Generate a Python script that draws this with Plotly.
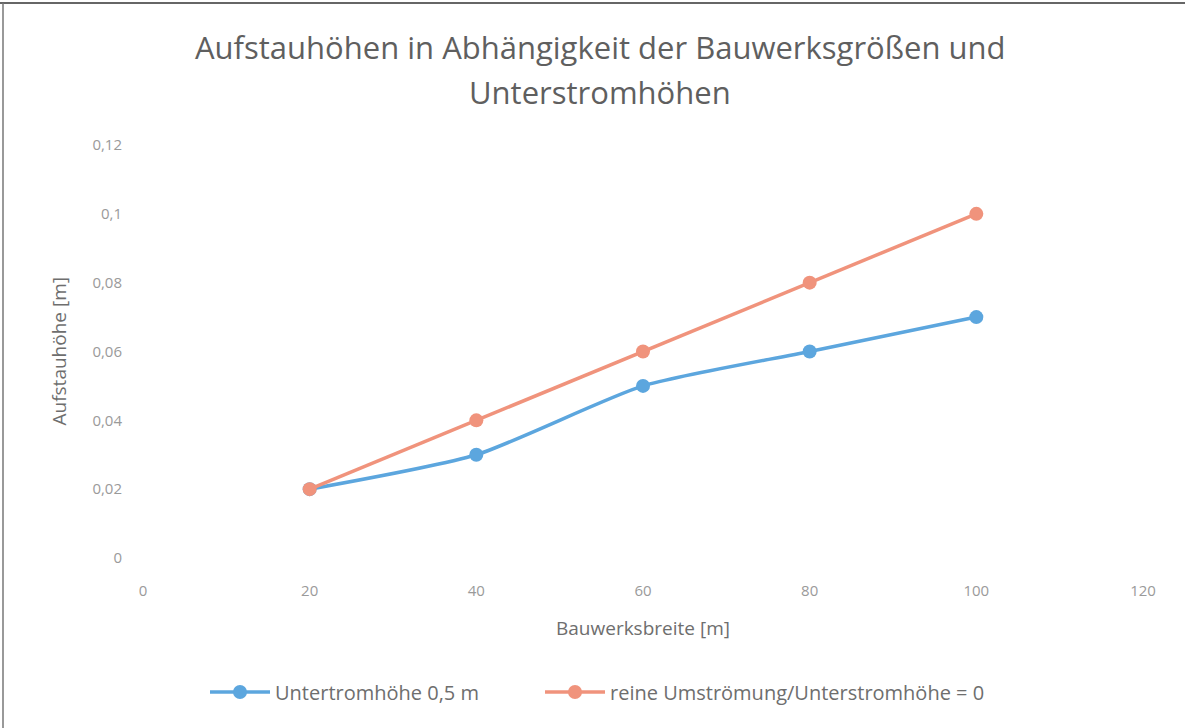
import plotly.graph_objects as go

# Bauwerksbreite [m]
breite = [20, 40, 60, 80, 100]
# Aufstauhöhe [m] bei Unterstromhöhe 0,5 m
auf_unterstrom = [0.02, 0.03, 0.05, 0.06, 0.07]
# Aufstauhöhe [m] bei reiner Umströmung (Unterstromhöhe = 0)
auf_umstroemung = [0.02, 0.04, 0.06, 0.08, 0.10]

x_ticks = [0, 20, 40, 60, 80, 100, 120]
y_ticks = [0, 0.02, 0.04, 0.06, 0.08, 0.1, 0.12]
y_ticktext = ["0", "0,02", "0,04", "0,06", "0,08", "0,1", "0,12"]

blue = "#5CA6DE"
orange = "#F0937C"
grey = "#6e6e6e"
tick_grey = "#9a9a9a"
font = "Open Sans"

# plot area in pixels (for placing the title and axis captions)
L, R, T, B = 143, 42, 145, 170
W, H = 1185 - L - R, 728 - T - B

fig = go.Figure()
fig.add_trace(go.Scatter(
    x=breite, y=auf_unterstrom, name="Untertromhöhe 0,5 m",
    legend="legend", showlegend=True,
    mode="lines+markers", line=dict(color=blue, width=3.5, shape="spline", smoothing=0.6),
    marker=dict(color=blue, size=14),
))
fig.add_trace(go.Scatter(
    x=breite, y=auf_umstroemung, name="reine Umströmung/Unterstromhöhe = 0",
    legend="legend2", showlegend=True,
    mode="lines+markers", line=dict(color=orange, width=3.5),
    marker=dict(color=orange, size=14),
))

title_x = (600 - L) / W
annotations = [
    dict(text="Aufstauhöhen in Abhängigkeit der Bauwerksgrößen und",
         x=title_x, y=1 + (T - 47) / H, font=dict(size=31, color="#5f5f5f")),
    dict(text="Unterstromhöhen",
         x=title_x, y=1 + (T - 92) / H, font=dict(size=31, color="#5f5f5f")),
    dict(text="Bauwerksbreite [m]",
         x=0.5, y=-(628 - (728 - B)) / H, font=dict(size=19, color=grey)),
    dict(text="Aufstauhöhe [m]", textangle=-90,
         x=-(L - 58) / W, y=0.5, font=dict(size=19, color=grey)),
]
for a in annotations:
    a.update(xref="paper", yref="paper", xanchor="center", yanchor="middle",
             showarrow=False)

legend_y = -(692 - (728 - B)) / H
legend_style = dict(orientation="h", xanchor="left", y=legend_y, yanchor="middle",
                    font=dict(size=20, color=grey), itemwidth=60, visible=True)

fig.update_layout(
    width=1185, height=728,
    margin=dict(l=L, r=R, t=T, b=B),
    paper_bgcolor="white", plot_bgcolor="white",
    font=dict(family=font, color=grey),
    separators=",.",
    showlegend=True,
    annotations=annotations,
    xaxis=dict(
        range=[0, 120], tickvals=x_ticks, showgrid=False, zeroline=False,
        showline=False, ticks="", tickfont=dict(size=15, color=tick_grey),
        ticklabelstandoff=22,
    ),
    yaxis=dict(
        range=[0, 0.12], tickvals=y_ticks, ticktext=y_ticktext, showgrid=False,
        zeroline=False, showline=False, ticks="", tickfont=dict(size=15, color=tick_grey),
        ticklabelstandoff=20,
    ),
    legend=dict(x=(205 - L) / W, **legend_style),
    legend2=dict(x=(540 - L) / W, **legend_style),
    shapes=[
        dict(type="line", xref="paper", yref="paper", x0=-L / W, x1=1.0 + R / W,
             y0=1 + (T - 3) / H, y1=1 + (T - 3) / H, line=dict(color="#666", width=2)),
        dict(type="line", xref="paper", yref="paper", x0=-(L - 3) / W, x1=-(L - 3) / W,
             y0=1 + (T - 3) / H, y1=-B / H, line=dict(color="#777", width=1.5)),
    ],
)

fig.write_html("out.html")
